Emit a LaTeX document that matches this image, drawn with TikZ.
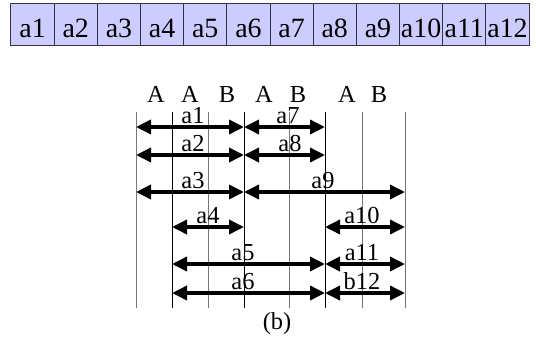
\documentclass[tikz,border=0pt]{standalone}
\usepackage{fontspec}
\setmainfont{Liberation Serif}
\usetikzlibrary{arrows.meta}
\definecolor{cellfill}{HTML}{CCCCFF}
\definecolor{cellline}{HTML}{333344}
\definecolor{gridgray}{HTML}{777777}
\tikzset{
  cell/.style={draw=cellline, line width=1bp, fill=cellfill, minimum width=43.167bp, minimum height=42bp, inner sep=0pt, text height=27bp, text depth=0pt, font=\fontsize{28}{28}\selectfont},
  lbl/.style={inner sep=0pt, anchor=base, font=\fontsize{24.5}{24.5}\selectfont},
  vgray/.style={draw=gridgray, line width=0.9bp},
  vblack/.style={draw=black, line width=0.9bp},
  darr/.style={line width=3.5bp, {Triangle[length=15bp,width=14bp]}-{Triangle[length=15bp,width=14bp]}, shorten <=0pt, shorten >=0pt}
}
\begin{document}
\begin{tikzpicture}[x=1bp,y=-1bp]
\useasboundingbox (0,0) rectangle (536,340);
% top row of cells
\foreach \i in {1,...,12}{
  \node[cell] (c\i) at ({11+43.167*(\i-0.5)}, 24) {a\i};
}
% vertical lines
\foreach \n/\x in {1/136,2/172,3/208,4/244,5/289,6/325,7/362,8/405}{
  \coordinate (t\n) at (\x,112);
  \coordinate (b\n) at (\x,308);
}
\draw[vgray] (t1) -- (b1);
\draw[vblack] (t2) -- (b2);
\draw[vgray] (t3) -- (b3);
\draw[vblack] (t4) -- (b4);
\draw[vgray] (t5) -- (b5);
\draw[vblack] (t6) -- (b6);
\draw[vgray] (t7) -- (b7);
\draw[vgray] (t8) -- (b8);
% header letters
\node[lbl] (h1) at (156,102) {A};
\node[lbl] (h2) at (190,102) {A};
\node[lbl] (h3) at (227,102) {B};
\node[lbl] (h4) at (264,102) {A};
\node[lbl] (h5) at (298,102) {B};
\node[lbl] (h6) at (347,102) {A};
\node[lbl] (h7) at (379,102) {B};
% row coordinates
\foreach \r/\y in {1/127,2/155,3/192,4/227,5/264,6/293}{
  \foreach \n/\x in {1/136,2/172,3/208,4/244,5/289,6/325,7/362,8/405}{
    \coordinate (p\r-\n) at (\x,\y);
  }
}
% arrows
\draw[darr] (p1-1) -- (p1-4);
\draw[darr] (p1-4) -- (p1-6);
\draw[darr] (p2-1) -- (p2-4);
\draw[darr] (p2-4) -- (p2-6);
\draw[darr] (p3-1) -- (p3-4);
\draw[darr] (p3-4) -- (p3-8);
\draw[darr] (p4-2) -- (p4-4);
\draw[darr] (p4-6) -- (p4-8);
\draw[darr] (p5-2) -- (p5-6);
\draw[darr] (p5-6) -- (p5-8);
\draw[darr] (p6-2) -- (p6-6);
\draw[darr] (p6-6) -- (p6-8);
% arrow labels
\node[lbl] (l1) at (193,123) {a1};
\node[lbl] (l7) at (288,123) {a7};
\node[lbl] (l2) at (193,151) {a2};
\node[lbl] (l8) at (290,151) {a8};
\node[lbl] (l3) at (193,188) {a3};
\node[lbl] (l9) at (323,188) {a9};
\node[lbl] (l4) at (208,223) {a4};
\node[lbl] (l10) at (362,223) {a10};
\node[lbl] (l5) at (243,260) {a5};
\node[lbl] (l11) at (362,260) {a11};
\node[lbl] (l6) at (243,289) {a6};
\node[lbl] (l12) at (362,289) {b12};
% caption
\node[lbl] (cap) at (277,329) {(b)};
\end{tikzpicture}
\end{document}
